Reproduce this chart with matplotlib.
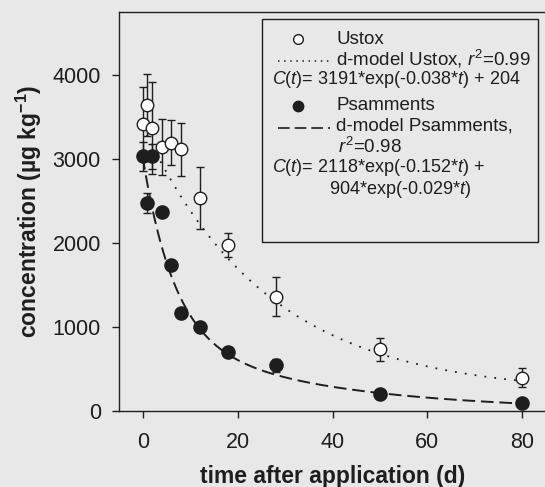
import numpy as np
import matplotlib
matplotlib.use('Agg')
import matplotlib.pyplot as plt
from matplotlib.patches import Rectangle
from matplotlib.lines import Line2D

plt.rcParams['font.family'] = 'Liberation Sans'
plt.rcParams['mathtext.fontset'] = 'custom'
plt.rcParams['mathtext.rm'] = 'Liberation Sans'
plt.rcParams['mathtext.it'] = 'Liberation Sans:italic'
plt.rcParams['mathtext.bf'] = 'Liberation Sans:bold'

# days after application
days = [0, 1, 2, 4, 6, 8, 12, 18, 28, 50, 80]

# Ustox (open circles), mean and error
ustox = [3415, 3640, 3370, 3140, 3195, 3115, 2535, 1975, 1360, 735, 395]
ustox_err = [440, 370, 550, 335, 265, 315, 370, 140, 230, 140, 115]

# Psamments (filled circles), mean and error
psam = [3030, 2480, 3030, 2375, 1740, 1170, 1005, 700, 545, 200, 90]
psam_err = [170, 120, 150, 0, 0, 0, 0, 0, 80, 0, 0]

# fitted model parameters (from the legend)
u_a, u_k, u_c = 3191, 0.038, 204
p_a1, p_k1, p_a2, p_k2 = 2118, 0.152, 904, 0.029

bg = '#e8e8e8'
ink = '#1e1e1e'

fig = plt.figure(figsize=(5.45, 4.87), dpi=100, facecolor=bg)
ax = fig.add_axes([119/545, 1-411/487, 427/545, 399/487], facecolor=bg)

t = np.linspace(0, 80, 300)
ax.plot(t, u_a*np.exp(-u_k*t) + u_c, color=ink, lw=1.3, ls=(0, (1, 4.5)), zorder=2)
ax.plot(t, p_a1*np.exp(-p_k1*t) + p_a2*np.exp(-p_k2*t), color=ink, lw=1.4,
        ls=(0, (6.5, 3)), zorder=2)

ax.errorbar(days, psam, yerr=psam_err, fmt='o', ms=9.5, mfc=ink, mec=ink,
            ecolor=ink, elinewidth=1, capsize=3, capthick=1, zorder=3)
ax.errorbar(days, ustox, yerr=ustox_err, fmt='o', ms=9, mfc='white', mec=ink,
            mew=1, ecolor=ink, elinewidth=1, capsize=3, capthick=1, zorder=4)

ax.set_xlim(-5, 85)
ax.set_ylim(0, 4750)
ax.set_xticks([0, 20, 40, 60, 80])
ax.set_yticks([0, 1000, 2000, 3000, 4000])
ax.tick_params(direction='out', length=5, width=1, color=ink, labelsize=15.5,
               labelcolor=ink)
ax.tick_params(axis='x', pad=10)
ax.tick_params(axis='y', pad=8)
for s in ax.spines.values():
    s.set_color(ink)
    s.set_linewidth(1)

ax.set_xlabel('time after application (d)', fontsize=16.5, fontweight='bold',
              color=ink, labelpad=9)
ax.set_ylabel('concentration (\u00b5g kg$^{\\mathbf{-1}}$)', fontsize=16.5,
              fontweight='bold', color=ink, labelpad=6)

# legend box drawn by hand
def fx(px):
    return px / 545

def fy(py):
    return 1 - py / 487

fig.patches.append(Rectangle((fx(262), fy(242)), fx(538) - fx(262), fy(19) - fy(242),
                             transform=fig.transFigure, fill=False, ec=ink, lw=1))
fig.lines.append(Line2D([fx(298)], [fy(39)], marker='o', ms=7, mfc='white', mec=ink,
                        mew=1, transform=fig.transFigure))
fig.lines.append(Line2D([fx(278), fx(330)], [fy(61), fy(61)], color=ink, lw=1.1,
                        ls=(0, (1, 3)), transform=fig.transFigure))
fig.lines.append(Line2D([fx(298)], [fy(106)], marker='o', ms=7.5, mfc=ink, mec=ink,
                        transform=fig.transFigure))
fig.lines.append(Line2D([fx(278), fx(330)], [fy(128), fy(128)], color=ink, lw=1.2,
                        ls=(0, (7, 3)), transform=fig.transFigure))

lsize = 13.5
esize = 13
fig.text(fx(336), fy(39), 'Ustox', fontsize=lsize, va='center', color=ink)
fig.text(fx(336), fy(59), 'd-model Ustox, $r^2$=0.99', fontsize=lsize, va='center', color=ink)
fig.text(fx(272), fy(80), '$C$($t$)= 3191*exp(-0.038*$t$) + 204', fontsize=esize,
         va='center', color=ink)
fig.text(fx(336), fy(106), 'Psamments', fontsize=lsize, va='center', color=ink)
fig.text(fx(336), fy(126), 'd-model Psamments,', fontsize=lsize, va='center', color=ink)
fig.text(fx(338), fy(147), '$r^2$=0.98', fontsize=lsize, va='center', color=ink)
fig.text(fx(272), fy(168), '$C$($t$)= 2118*exp(-0.152*$t$) +', fontsize=esize,
         va='center', color=ink)
fig.text(fx(329), fy(190), '904*exp(-0.029*$t$)', fontsize=esize, va='center', color=ink)

fig.savefig('out.png', dpi=100, facecolor=bg)
